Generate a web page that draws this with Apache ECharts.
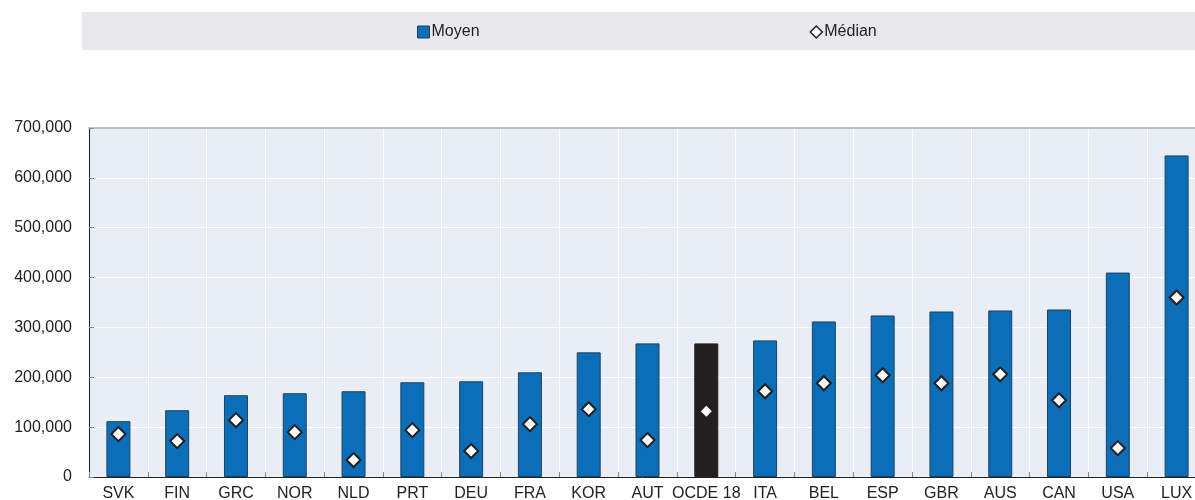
<!DOCTYPE html>
<html>
<head>
<meta charset="utf-8">
<script src="https://cdn.jsdelivr.net/npm/echarts@6/dist/echarts.min.js"></script>
<style>
  html, body { margin: 0; padding: 0; background: #fff; }
  #chart { width: 1195px; height: 500px; }
</style>
</head>
<body>
<div id="chart"></div>
<script>
const countries = ['SVK', 'FIN', 'GRC', 'NOR', 'NLD', 'PRT', 'DEU', 'FRA', 'KOR', 'AUT', 'OCDE 18',
  'ITA', 'BEL', 'ESP', 'GBR', 'AUS', 'CAN', 'USA', 'LUX']
const moyen = [112000, 134000, 164000, 168000, 172000, 190000, 192000, 210000, 250000, 268000, 268000,
  274000, 312000, 324000, 332000, 334000, 336000, 410000, 645000]
const median = [86000, 72000, 114000, 90000, 34000, 94000, 52000, 106000, 136000, 74000, 132000,
  172000, 188000, 204000, 188000, 206000, 154000, 58000, 360000]
const yTicks = [0, 100000, 200000, 300000, 400000, 500000, 600000, 700000]

const font = 'Liberation Sans, Arial, sans-serif'
const oecdName = 'OCDE 18'

const chart = echarts.init(document.getElementById('chart'))

const option = {
  animation: false,
  textStyle: {fontFamily: font},
  graphic: [
    {
      type: 'rect',
      shape: {x: 82, y: 12, width: 1113, height: 38},
      style: {fill: '#e9e9eb'},
      z: -10
    }
  ],
  legend: {
    left: 412,
    top: 19,
    itemWidth: 12,
    itemHeight: 12,
    itemGap: 330,
    textStyle: {fontFamily: font, fontSize: 16, color: '#222', padding: [0, 0, 0, -3]},
    data: [
      {name: 'Moyen', icon: 'rect', itemStyle: {color: '#0a6fb8', borderColor: '#21415f', borderWidth: 1}},
      {name: 'Médian', icon: 'diamond', itemStyle: {color: '#fff', borderColor: '#222', borderWidth: 1.5}}
    ]
  },
  grid: {
    left: 89,
    top: 128,
    width: 1117,
    height: 349,
    outerBoundsMode: 'none',
    show: true,
    backgroundColor: '#e9edf6',
    borderWidth: 0
  },
  xAxis: [
    {
      type: 'category',
      data: countries,
      axisLine: {lineStyle: {color: '#222', width: 1}},
      axisTick: {show: true, inside: true, length: 5, lineStyle: {color: '#888'}},
      axisLabel: {fontFamily: font, fontSize: 16, color: '#222', margin: 9, interval: 0},
      splitLine: {show: true, lineStyle: {color: '#ffffff', width: 1}}
    },
    {
      type: 'category',
      position: 'top',
      data: countries,
      axisLine: {lineStyle: {color: '#aaa', width: 1.5}},
      axisTick: {show: false},
      axisLabel: {show: false}
    }
  ],
  yAxis: {
    type: 'value',
    min: 0,
    max: 700000,
    interval: 100000,
    axisLine: {show: true, lineStyle: {color: '#222', width: 1}},
    axisTick: {show: true, inside: true, length: 5, lineStyle: {color: '#888'}},
    axisLabel: {
      fontFamily: font,
      fontSize: 16,
      color: '#222',
      margin: 17,
      formatter: v => yTicks.includes(v) ? v.toLocaleString('en-US') : ''
    },
    splitLine: {show: true, lineStyle: {color: '#ffffff', width: 1}}
  },
  series: [
    {
      name: 'Moyen',
      type: 'bar',
      barWidth: 24,
      data: moyen.map((v, i) => countries[i] === oecdName
        ? {value: v, itemStyle: {color: '#231f20', borderColor: '#231f20'}}
        : v),
      itemStyle: {color: '#0a6fb8', borderColor: '#21415f', borderWidth: 1}
    },
    {
      name: 'Médian',
      type: 'scatter',
      symbol: 'diamond',
      symbolSize: 14,
      z: 5,
      data: median.map((v, i) => countries[i] === oecdName
        ? {value: v, symbolSize: 11, itemStyle: {color: '#fff', borderWidth: 0}}
        : v),
      itemStyle: {color: '#fff', borderColor: '#231f20', borderWidth: 2, opacity: 1}
    }
  ]
}

chart.setOption(option)
</script>
</body>
</html>
